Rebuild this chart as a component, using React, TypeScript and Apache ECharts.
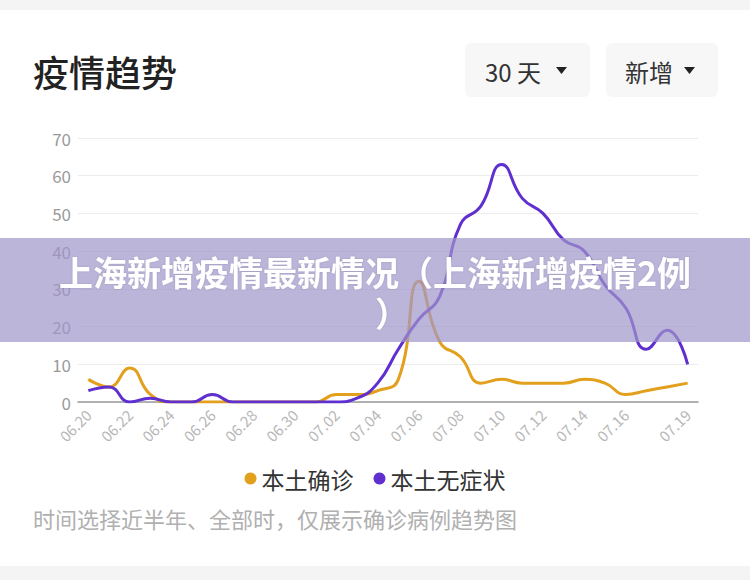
import React, { useEffect, useRef } from "react";
import * as echarts from "echarts";

const dates = [
  "06.20", "06.21", "06.22", "06.23", "06.24", "06.25", "06.26", "06.27", "06.28", "06.29",
  "06.30", "07.01", "07.02", "07.03", "07.04", "07.05", "07.06", "07.07", "07.08", "07.09",
  "07.10", "07.11", "07.12", "07.13", "07.14", "07.15", "07.16", "07.17", "07.18", "07.19",
];
const confirmed = [6, 4, 9, 2, 0, 0, 0, 0, 0, 0, 0, 0, 2, 2, 3, 6, 32, 16, 12, 5, 6, 5, 5, 5, 6, 5, 2, 3, 4, 5];
const asymptomatic = [3, 4, 0, 1, 0, 0, 2, 0, 0, 0, 0, 0, 0, 1, 5, 14, 22, 28, 47, 52, 63, 54, 50, 43, 40, 31, 25, 14, 19, 10];
const seriesNames = ["本土确诊", "本土无症状"];
const yTicks = { min: 0, max: 70, interval: 10 };

const FONT = "'Noto Sans CJK SC', 'Noto Sans', sans-serif";

export default function App() {
  const ref = useRef<HTMLDivElement>(null);
  useEffect(() => {
    if (!ref.current) return;
    const chart = echarts.init(ref.current, null, { renderer: "svg" });
    const last = dates.length - 1;
    chart.setOption({
      animation: false,
      backgroundColor: "#ffffff",
      textStyle: { fontFamily: FONT },
      grid: { left: 78, right: 52, top: 138, height: 264 },
      legend: {
        data: seriesNames.map((n) => ({ name: n, icon: "circle" })),
        left: "center",
        top: 462,
        itemWidth: 12,
        itemHeight: 12,
        itemGap: 20,
        textStyle: { fontSize: 23, color: "#333", fontFamily: FONT },
      },
      xAxis: {
        type: "category",
        data: dates,
        boundaryGap: true,
        axisTick: { show: false },
        axisLine: { lineStyle: { color: "#9a9a9a", width: 1.5 } },
        axisLabel: {
          rotate: 45,
          color: "#b8b8b8",
          fontSize: 15,
          margin: 10,
          fontFamily: FONT,
          interval: (i: number) => (i % 2 === 0 && i < last - 1) || i === last,
        },
      },
      yAxis: {
        type: "value",
        min: yTicks.min,
        max: yTicks.max,
        interval: yTicks.interval,
        axisLine: { show: false },
        axisTick: { show: false },
        axisLabel: { color: "#9a9a9a", fontSize: 17, margin: 7, fontFamily: FONT },
        splitLine: { lineStyle: { color: "#ececec", width: 1 } },
      },
      series: [
        {
          name: seriesNames[0],
          type: "line",
          data: confirmed,
          smooth: 0.5,
          showSymbol: false,
          symbol: "none",
          color: "#e3a01c",
          lineStyle: { width: 3, color: "#e3a01c" },
        },
        {
          name: seriesNames[1],
          type: "line",
          data: asymptomatic,
          smooth: 0.5,
          showSymbol: false,
          symbol: "none",
          color: "#5f30cf",
          lineStyle: { width: 3, color: "#5f30cf" },
        },
      ],
      graphic: [
        { type: "rect", shape: { x: 0, y: 0, width: 750, height: 10 }, style: { fill: "#f4f4f4" } },
        { type: "rect", shape: { x: 0, y: 566, width: 750, height: 14 }, style: { fill: "#f4f4f4" } },
        {
          type: "text",
          x: 33,
          y: 71,
          style: { text: "疫情趋势", fontSize: 36, fontWeight: 500, fill: "#222", fontFamily: FONT, verticalAlign: "middle" },
        },
        { type: "rect", shape: { x: 465, y: 43, width: 125, height: 54, r: 6 }, style: { fill: "#f7f7f7" } },
        {
          type: "text",
          x: 485,
          y: 71,
          style: { text: "30 天", fontSize: 24, fill: "#333", fontFamily: FONT, verticalAlign: "middle" },
        },
        { type: "polygon", shape: { points: [[556, 67], [567, 67], [561.5, 74]] }, style: { fill: "#222" } },
        { type: "rect", shape: { x: 606, y: 43, width: 112, height: 54, r: 6 }, style: { fill: "#f7f7f7" } },
        {
          type: "text",
          x: 625,
          y: 71,
          style: { text: "新增", fontSize: 24, fill: "#333", fontFamily: FONT, verticalAlign: "middle" },
        },
        { type: "polygon", shape: { points: [[684, 67], [695, 67], [689.5, 74]] }, style: { fill: "#222" } },
        {
          type: "text",
          x: 33,
          y: 518,
          style: {
            text: "时间选择近半年、全部时，仅展示确诊病例趋势图",
            fontSize: 22,
            fill: "#b0b0b0",
            fontFamily: FONT,
            verticalAlign: "middle",
          },
        },
        {
          type: "rect",
          z: 100,
          shape: { x: 0, y: 238, width: 750, height: 104 },
          style: { fill: "rgba(160,150,202,0.7)" },
        },
        {
          type: "text",
          z: 101,
          x: 375,
          y: 271,
          style: {
            text: "上海新增疫情最新情况（上海新增疫情2例",
            fontSize: 34,
            fontWeight: "bold",
            fill: "#ffffff",
            fontFamily: FONT,
            align: "center",
            verticalAlign: "middle",
            textShadowColor: "rgba(0,0,0,0.15)",
            textShadowBlur: 2,
          },
        },
        {
          type: "text",
          z: 101,
          x: 375,
          y: 312,
          style: {
            text: "）",
            fontSize: 34,
            fontWeight: "bold",
            fill: "#ffffff",
            fontFamily: FONT,
            align: "left",
            verticalAlign: "middle",
            textShadowColor: "rgba(0,0,0,0.15)",
            textShadowBlur: 2,
          },
        },
      ],
    });
    return () => chart.dispose();
  }, []);
  return (
    <div
      ref={ref}
      style={{ position: "fixed", left: 0, top: 0, width: 750, height: 580 }}
    />
  );
}
